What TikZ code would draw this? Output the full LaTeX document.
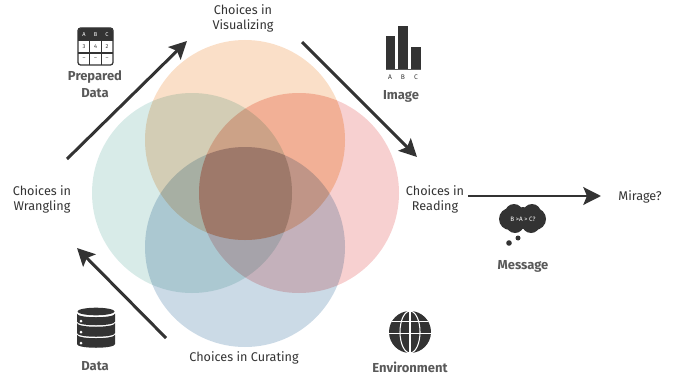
\documentclass[tikz,border=0pt]{standalone}
\usepackage{fontspec}
\setmainfont{Fira Sans}
\usetikzlibrary{arrows.meta}
\definecolor{inkdark}{HTML}{333333}
\definecolor{labelgray}{HTML}{595959}
\definecolor{orangeset}{RGB}{250,223,200}
\definecolor{greenset}{RGB}{216,235,232}
\definecolor{pinkset}{RGB}{247,208,208}
\definecolor{blueset}{RGB}{203,218,230}
\tikzset{
  stagelabel/.style={align=center,font=\fontsize{7.2}{8.6}\selectfont,text=inkdark,inner sep=0pt},
  iconlabel/.style={align=center,font=\fontsize{7.4}{9.6}\selectfont\bfseries,text=labelgray,inner sep=0pt},
  flowarrow/.style={draw=inkdark,line width=1.7pt,-{Stealth[length=10pt,width=10pt,inset=2pt]}},
  tinylabel/.style={font=\fontsize{3.2}{3.2}\selectfont,inner sep=0pt}
}
\begin{document}
\begin{tikzpicture}[x=0.02cm,y=-0.02cm]
  \useasboundingbox (0,0) rectangle (675,375);

  % circles
  \begin{scope}[blend group=multiply]
    \fill[orangeset] (245,140) circle (100);
    \fill[greenset] (192,193) circle (100);
    \fill[pinkset] (299,193) circle (100);
    \fill[blueset] (245,247) circle (100);
    \begin{scope}
      \clip (245,140) circle (100);
      \clip (299,193) circle (100);
      \fill[fill={rgb,255:red,255;green,248;blue,235}] (100,0) rectangle (400,375);
      \clip (192,193) circle (100);
      \clip (245,247) circle (100);
      \fill[fill={rgb,255:red,250;green,225;blue,225}] (100,0) rectangle (400,375);
    \end{scope}
  \end{scope}

  % labels
  \node[stagelabel] (visual) at (243,18) {Choices in\\Visualizing};
  \node[stagelabel] (wrangle) at (42,199) {Choices in\\Wrangling};
  \node[stagelabel] (reading) at (435,199) {Choices in\\Reading};
  \node[stagelabel] (curate) at (244,358) {Choices in Curating};
  \node[stagelabel] (mirage) at (640,197) {Mirage?};
  \node[iconlabel] (prepared) at (95,84) {Prepared\\Data};
  \node[iconlabel] (image) at (401,96) {Image};
  \node[iconlabel] (message) at (523,266) {Message};
  \node[iconlabel] (data) at (95,366) {Data};
  \node[iconlabel] (environ) at (410,367) {Environment};

  % arrows
  \coordinate (w1) at (67,159);
  \coordinate (v1) at (187,41);
  \coordinate (v2) at (302,42);
  \coordinate (r1) at (417,157);
  \coordinate (r2) at (468,196);
  \coordinate (m1) at (601,196);
  \coordinate (c1) at (166,338);
  \coordinate (w2) at (77,248);
  \draw[flowarrow] (w1) -- (v1);
  \draw[flowarrow] (v2) -- (r1);
  \draw[flowarrow] (r2) -- (m1);
  \draw[flowarrow] (c1) -- (w2);

  % table
  \begin{scope}
    \fill[inkdark,rounded corners=2pt] (78,45) -- (78,28) -- (113,28) -- (113,45) -- cycle;
    \fill[white] (78,41) rectangle (113,50);
    \draw[inkdark,line width=.7pt,rounded corners=1.5pt] (78,28) rectangle (113,65);
    \draw[inkdark,line width=.6pt] (78,53) -- (113,53) (89.7,41) -- (89.7,65) (101.3,41) -- (101.3,65);
    \begin{scope}[every node/.style={tinylabel,text=white}]
      \node (ta) at (84,35) {A};
      \node (tb) at (95.5,35) {B};
      \node (tc) at (107,35) {C};
    \end{scope}
    \begin{scope}[every node/.style={tinylabel,text=inkdark}]
      \node (t3) at (84,47) {3};
      \node (t4) at (95.5,47) {4};
      \node (t2) at (107,47) {2};
      \node (d1) at (84,59) {--};
      \node (d2) at (95.5,59) {--};
      \node (d3) at (107,59) {--};
    \end{scope}
  \end{scope}

  % bars
  \fill[inkdark] (386,36) rectangle (395,69);
  \fill[inkdark] (398,26) rectangle (408,69);
  \fill[inkdark] (411,47) rectangle (421,69);
  \draw[labelgray,line width=.4pt] (386,69) -- (421,69);
  \begin{scope}[every node/.style={tinylabel,text=inkdark,font=\fontsize{3.8}{4}\selectfont}]
    \node (ba) at (390,77) {A};
    \node (bb) at (403,77) {B};
    \node (bc) at (416,77) {C};
  \end{scope}

  % cloud
  \begin{scope}
    \fill[inkdark] (510,219) circle (11);
    \fill[inkdark] (535,219) circle (11);
    \fill[inkdark] (514,213) circle (9);
    \fill[inkdark] (532,213) circle (9);
    \fill[inkdark] (515,224) circle (9);
    \fill[inkdark] (531,224) circle (9);
    \fill[inkdark] (523,218) circle (11);
    \fill[inkdark] (518,238) circle (2.5);
    \fill[inkdark] (509,243) circle (2.8);
    \node[tinylabel,text=white,font=\fontsize{3.6}{4}\selectfont] (thought) at (523,219) {B >A > C?};
  \end{scope}

  % database
  \begin{scope}
    \fill[inkdark] (96,311.5) ellipse (18.5 and 3.8);
    \foreach \upper/\lower in {313.5/321.5,323/333,334.5/344}
      \fill[inkdark] (77,\upper) .. controls (77,\upper+5) and (115,\upper+5) .. (115,\upper) -- (115,\lower) .. controls (115,\lower+5) and (77,\lower+5) .. (77,\lower) -- cycle;
    \fill[white] (81,321) circle (1.5) (81,332) circle (1.5) (81,343) circle (1.5);
  \end{scope}

  % globe
  \begin{scope}
    \fill[inkdark] (410,332) circle (21);
    \draw[white,line width=.6pt] (410,311) -- (410,353) (392,321.5) -- (428,321.5) (389,333.5) -- (431,333.5);
    \draw[white,line width=.6pt] (410,332) ellipse (10 and 21);
  \end{scope}
\end{tikzpicture}
\end{document}
